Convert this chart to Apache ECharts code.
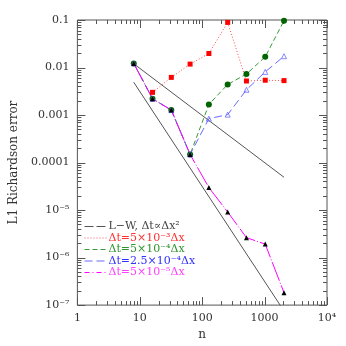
<!DOCTYPE html>
<html>
<head>
<meta charset="utf-8">
<script src="https://cdn.jsdelivr.net/npm/echarts@6/dist/echarts.min.js"></script>
<style>
  html, body { margin: 0; padding: 0; background: #fff; }
  #chart { width: 346px; height: 346px; }
</style>
</head>
<body>
<div id="chart"></div>
<script>
// grid resolutions
var nRed = [16, 32, 64, 128, 256, 512, 1024, 2048];
var nAll = [8, 16, 32, 64, 128, 256, 512, 1024, 2048];
var nLW = [8, 2048];

// L1 Richardson error
var errRed = [0.0030, 0.0062, 0.0118, 0.0197, 0.089, 0.0052, 0.0054, 0.0053];
var errGreen = [0.0122, 0.0022, 0.00127, 0.000148, 0.00167, 0.0044, 0.0073, 0.0168, 0.097];
var errBlue = [0.0122, 0.0022, 0.00127, 0.000148, 0.00084, 0.00102, 0.0034, 0.0081, 0.0173];
var errMagenta = [0.0122, 0.0022, 0.00127, 0.000148, 2.97e-5, 9.1e-6, 2.63e-6, 1.92e-6, 1.82e-7];
var lwFirst = [0.012, 4.9e-5];
var lwSecond = [0.0049, 7.5e-8];

var xTickLabels = ['1', '10', '100', '1000', '10\u2074'];
var yTickLabels = ['10\u207b\u2077', '10\u207b\u2076', '10\u207b\u2075', '0.0001', '0.001', '0.01', '0.1'];
var minorMult = [2, 3, 4, 5, 6, 7, 8, 9];

var names = {
	lw: 'L\u2212W, \u0394t\u221d\u0394x\u00b2',
	red: '\u0394t=5\u00d710\u207b\u00b3\u0394x',
	green: '\u0394t=5\u00d710\u207b\u2074\u0394x',
	blue: '\u0394t=2.5\u00d710\u207b\u2074\u0394x',
	magenta: '\u0394t=5\u00d710\u207b\u2075\u0394x'
};

var colors = {
	lw: '#555',
	red: '#ff5050',
	green: '#3a9a3a',
	blue: '#6a6aff',
	magenta: '#ff00ff'
};

function pairs(xs, ys) {
	return xs.map(function (x, i) { return [x, ys[i]]; });
}

// tick positions for the frame (majors and minors, every side)
var xTicks = [];
for (var e = 0; e <= 4; e++) {
	xTicks.push([Math.pow(10, e), 1e-7, 8]);
	if (e < 4) minorMult.forEach(function (m) { xTicks.push([m * Math.pow(10, e), 1e-7, 4]); });
}
var yTicks = [];
for (var k = -7; k <= -1; k++) {
	yTicks.push([1, Math.pow(10, k), 8]);
	if (k < -1) minorMult.forEach(function (m) { yTicks.push([1, m * Math.pow(10, k), 4]); });
}

var frameColor = '#555';
var font = 'DejaVu Serif';

function tickSeries(data, vertical) {
	return {
		type: 'custom',
		silent: true,
		z: 1,
		data: data,
		renderItem: function (params, api) {
			var cs = params.coordSys;
			var p = api.coord([api.value(0), api.value(1)]);
			var len = api.value(2);
			var st = { stroke: frameColor, lineWidth: 1 };
			if (vertical) {
				var x = Math.round(p[0]) + 0.5;
				return { type: 'group', children: [
					{ type: 'line', shape: { x1: x, y1: cs.y + cs.height, x2: x, y2: cs.y + cs.height - len }, style: st },
					{ type: 'line', shape: { x1: x, y1: cs.y, x2: x, y2: cs.y + len }, style: st }
				] };
			}
			var y = Math.round(p[1]) + 0.5;
			return { type: 'group', children: [
				{ type: 'line', shape: { x1: cs.x, y1: y, x2: cs.x + len, y2: y }, style: st },
				{ type: 'line', shape: { x1: cs.x + cs.width, y1: y, x2: cs.x + cs.width - len, y2: y }, style: st }
			] };
		}
	};
}

function legendItem(key, textColor, dash) {
	return {
		name: names[key],
		itemStyle: { opacity: 0, color: colors[key] },
		lineStyle: { color: colors[key], width: 1, type: dash },
		textStyle: { color: textColor }
	};
}

var chart = echarts.init(document.getElementById('chart'));
var option = {
	animation: false,
	backgroundColor: '#fff',
	grid: {
		left: 72,
		right: 19,
		top: 20,
		bottom: 37,
		show: true,
		borderColor: frameColor,
		borderWidth: 1
	},
	legend: {
		orient: 'vertical',
		left: 79,
		top: 216,
		itemWidth: 22,
		itemHeight: 10,
		itemGap: 0.5,
		textStyle: { fontFamily: font, fontSize: 11, padding: [0, 0, 0, -3] },
		data: [
			legendItem('lw', '#444', [9, 3]),
			legendItem('red', '#ff3030', [1, 2]),
			legendItem('green', '#2e962e', [5, 3]),
			legendItem('blue', '#3030ff', [8, 4]),
			legendItem('magenta', '#ff40ff', [5, 3, 1, 3])
		]
	},
	xAxis: {
		type: 'log',
		logBase: 10,
		min: 1,
		max: 10000,
		interval: 1,
		name: 'n',
		nameLocation: 'middle',
		nameGap: 20,
		nameTextStyle: { fontFamily: font, fontSize: 12, color: '#333' },
		axisLine: { show: false },
		axisTick: { show: false },
		splitLine: { show: false },
		axisLabel: {
			fontFamily: font,
			fontSize: 11,
			color: '#333',
			margin: 8,
			formatter: function (v) {
				return xTickLabels[Math.round(Math.log10(v))];
			}
		}
	},
	yAxis: {
		type: 'log',
		logBase: 10,
		min: 1e-7,
		max: 0.1,
		interval: 1,
		name: 'L1 Richardson error',
		nameLocation: 'middle',
		nameRotate: 90,
		nameGap: 52,
		nameTextStyle: { fontFamily: font, fontSize: 12, color: '#333' },
		axisLine: { show: false },
		axisTick: { show: false },
		splitLine: { show: false },
		axisLabel: {
			fontFamily: font,
			fontSize: 11,
			color: '#333',
			margin: 8,
			formatter: function (v) {
				return yTickLabels[Math.round(Math.log10(v)) + 7];
			}
		}
	},
	series: [
		tickSeries(xTicks, true),
		tickSeries(yTicks, false),
		{
			name: names.lw, type: 'line', data: pairs(nLW, lwFirst), symbol: 'none',
			lineStyle: { color: colors.lw, width: 1 }, itemStyle: { color: colors.lw }
		},
		{
			name: names.lw, type: 'line', data: pairs(nLW, lwSecond), symbol: 'none',
			lineStyle: { color: colors.lw, width: 1 }, itemStyle: { color: colors.lw }
		},
		{
			name: names.red, type: 'line', data: pairs(nRed, errRed),
			symbol: 'rect', symbolSize: 5,
			lineStyle: { color: colors.red, width: 1, type: [1, 2] },
			itemStyle: { color: '#ff0000' }
		},
		{
			name: names.green, type: 'line', data: pairs(nAll, errGreen),
			symbol: 'circle', symbolSize: 6,
			lineStyle: { color: colors.green, width: 1, type: [5, 3] },
			itemStyle: { color: '#006400' }
		},
		{
			name: names.blue, type: 'line', data: pairs(nAll, errBlue),
			symbol: 'triangle', symbolSize: 5,
			lineStyle: { color: colors.blue, width: 1, type: [8, 4] },
			itemStyle: { color: 'rgba(255,255,255,0)', borderColor: colors.blue, borderWidth: 0.8 }
		},
		{
			name: names.magenta, type: 'line', data: pairs(nAll, errMagenta),
			symbol: 'none',
			lineStyle: { color: colors.magenta, width: 1, type: [20, 2, 1, 2] },
			itemStyle: { color: colors.magenta }
		},
		{
			// black markers of the magenta run (not in the legend)
			name: 'magenta-markers', type: 'line', data: pairs(nAll, errMagenta),
			symbol: 'triangle', symbolSize: 5,
			lineStyle: { width: 0, opacity: 0 },
			itemStyle: { color: '#000' }
		}
	]
};
chart.setOption(option);
window.addEventListener('resize', function () {
	chart.resize();
});
</script>
</body>
</html>
